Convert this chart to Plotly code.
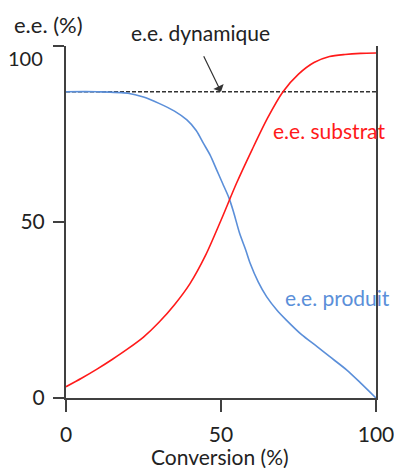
import plotly.graph_objects as go

# Data
conv_sub = [0, 5, 10, 15, 20, 25, 30, 35, 40, 45, 50, 55, 60, 65, 70, 75, 80, 85, 90, 95, 100]
ee_sub = [3.2, 5.6, 8.2, 11, 14, 17.3, 21.5, 26.5, 32.5, 40.5, 50.5, 61, 70.5, 79.5, 87, 92, 95.3, 97, 97.6, 97.9, 98]

conv_prod = [0, 10, 20, 25, 30, 35, 39, 42, 44.3, 46.5, 48.6, 50.5, 52.5, 54, 56, 58, 59.4,
             62, 64.7, 68, 71, 76, 81, 85, 90.5, 95, 100]
ee_prod = [87, 87, 86.6, 85.5, 83.7, 81.5, 79, 76, 72.4, 69, 64.8, 61, 57, 53, 46.8, 42, 38.3,
           33, 28.8, 25, 22.2, 18, 14.6, 11.8, 8, 4.3, 0]

conv_dyn = [0, 100]
ee_dyn = [87, 87]

x_ticks = [0, 50, 100]
x_ticktext = ["0", "50", "100"]
y_ticks = [0, 50, 100]
y_ticktext = ["0", "50", ""]   # "100" drawn slightly below its tick, as in the original
y_top_label = "100"

FONT = "Lato, Open Sans, sans-serif"
AX = "#404040"
TXT = "#222222"

fig = go.Figure()
fig.add_trace(go.Scatter(x=conv_dyn, y=ee_dyn, mode="lines",
                         line=dict(color="#333333", width=1.3, dash="4px,2px"),
                         cliponaxis=False, showlegend=False))
fig.add_trace(go.Scatter(x=conv_prod, y=ee_prod, mode="lines", line_shape="spline",
                         line=dict(color="#5B8FD9", width=1.6, smoothing=0.8),
                         cliponaxis=False, showlegend=False))
fig.add_trace(go.Scatter(x=conv_sub, y=ee_sub, mode="lines", line_shape="spline",
                         line=dict(color="#FF1A1A", width=1.6, smoothing=0.8),
                         cliponaxis=False, showlegend=False))

fig.update_layout(
    width=394, height=468,
    margin=dict(l=66, r=18, t=46, b=70),
    paper_bgcolor="white", plot_bgcolor="white",
    font=dict(family=FONT, size=21, color=TXT),
    xaxis=dict(range=[0, 100], tickvals=x_ticks, ticktext=x_ticktext, showgrid=False,
               zeroline=False, showline=True, linecolor=AX, linewidth=2, ticks="outside",
               ticklen=12, tickwidth=2, tickcolor=AX, ticklabelstandoff=5, automargin=False,
               ticklabeloverflow="allow", tickfont=dict(size=21, color=TXT)),
    yaxis=dict(range=[0, 100], tickvals=y_ticks, ticktext=y_ticktext, showgrid=False,
               zeroline=False, showline=True, linecolor=AX, linewidth=2, mirror=True,
               ticks="outside", ticklen=11, tickwidth=2, tickcolor=AX, ticklabelstandoff=4,
               automargin=False, ticklabeloverflow="allow",
               tickfont=dict(size=21, color=TXT)),
    annotations=[
        dict(text=y_top_label, x=-0.068, y=96.6, xref="paper", yref="y",
             xanchor="right", yanchor="middle",
             showarrow=False, font=dict(size=20, color=TXT)),
        dict(text="e.e. (%)", x=-0.058, y=1.0625, xref="paper", yref="paper",
             xanchor="center", yanchor="middle",
             showarrow=False, font=dict(size=22, color=TXT)),
        dict(text="Conversion (%)", x=0.497, y=-0.165, xref="paper", yref="paper",
             xanchor="center", yanchor="middle",
             showarrow=False, font=dict(size=21, color=TXT)),
        dict(text="e.e. dynamique", x=0.435, y=1.037, xref="paper", yref="paper",
             xanchor="center", yanchor="middle",
             showarrow=False, font=dict(size=21, color=TXT)),
        dict(text="", x=50, y=87, xref="x", yref="y", showarrow=True,
             ax=-18, ay=-37, arrowhead=1, arrowsize=1.6, arrowwidth=1.2,
             arrowcolor="#333333"),
        dict(text="e.e. substrat", x=66, y=76, xref="x", yref="y", xanchor="left",
             yanchor="middle",
             showarrow=False, font=dict(size=21, color="#FF1A1A")),
        dict(text="e.e. produit", x=70, y=28.6, xref="x", yref="y", xanchor="left",
             yanchor="middle",
             showarrow=False, font=dict(size=21, color="#5B8FD9")),
    ],
)

fig.write_html(
    "out.html",
    config={"displayModeBar": False},
    post_script="document.body.style.margin='0';"
                "document.documentElement.style.overflow='hidden';",
)
